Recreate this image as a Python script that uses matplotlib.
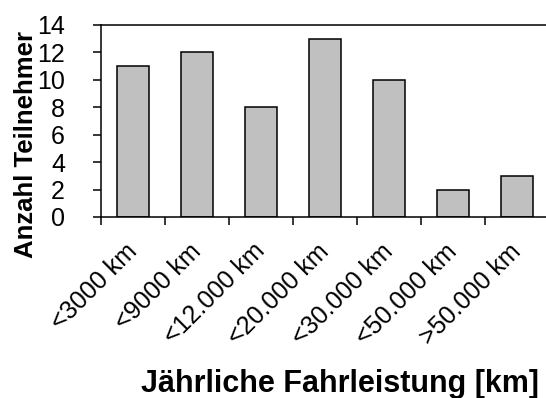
import matplotlib

matplotlib.use("Agg")

import matplotlib.pyplot as plt
import numpy as np

categories = ["<3000 km", "<9000 km", "<12.000 km", "<20.000 km", "<30.000 km", "<50.000 km", ">50.000 km"]
teilnehmer = [11, 12, 8, 13, 10, 2, 3]
y_ticks = [0, 2, 4, 6, 8, 10, 12, 14]

plt.rcParams["font.family"] = ["Liberation Sans", "DejaVu Sans"]

W, H = 546, 398
fig = plt.figure(figsize=(W / 100, H / 100), dpi=100)
ax = fig.add_axes([101 / W, 1 - 217 / H, 448 / W, 192 / H])

x = np.arange(len(categories))
ax.bar(x, teilnehmer, width=0.5, color="#c0c0c0", edgecolor="black", linewidth=1.1)

ax.set_xlim(-0.5, len(categories) - 0.5)
ax.set_ylim(0, 14)
ax.set_yticks(y_ticks)
ax.tick_params(axis="y", direction="out", length=6, width=1.1, labelsize=18, pad=20)

# Teilstriche an den Kategoriegrenzen, Beschriftung in der Mitte
ax.set_xticks(np.arange(len(categories) + 1) - 0.5)
ax.set_xticklabels([])
ax.set_xticks(x, minor=True)
ax.set_xticklabels(categories, minor=True, rotation=45, ha="right", va="center",
                   rotation_mode="anchor", fontsize=18)
ax.tick_params(axis="x", which="major", direction="out", length=6, width=1.1)
ax.tick_params(axis="x", which="minor", length=0, pad=22)

for side in ("left", "bottom", "top", "right"):
    ax.spines[side].set_linewidth(1.1)

fig.text(33 / W, 1 - 144 / H, "Anzahl Teilnehmer", rotation=90, ha="center", va="baseline",
         rotation_mode="anchor", fontsize=18.5, fontweight="bold")
fig.text(340 / W, 1 - 392 / H, "Jährliche Fahrleistung [km]", ha="center", va="baseline",
         fontsize=22, fontweight="bold")

fig.savefig("out.png", dpi=100)
